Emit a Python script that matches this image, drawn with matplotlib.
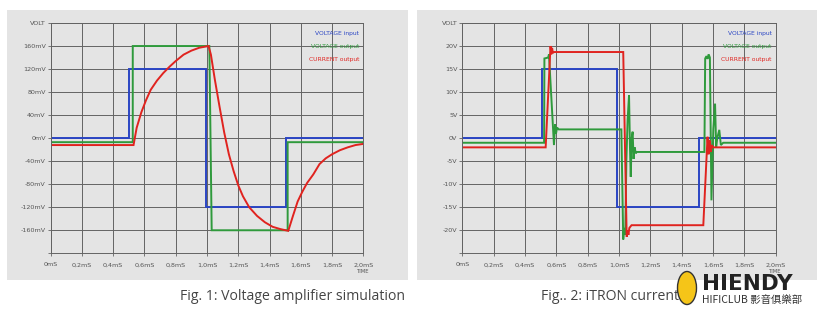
import matplotlib
matplotlib.use("Agg")
import matplotlib.pyplot as plt
from matplotlib.patches import Rectangle, Ellipse

# ---------------- data ----------------
# Fig. 1 (mV vs ms)
f1_in_t = [0, 0.50, 0.50, 0.994, 0.994, 1.503, 1.503, 2.0]
f1_in_v = [0, 0, 120, 120, -120, -120, 0, 0]
f1_out_t = [0, 0.525, 0.525, 1.015, 1.03, 1.516, 1.516, 2.0]
f1_out_v = [-7, -7, 160, 160, -160, -160, -7, -7]
f1_cur_t = [0, 0.53, 0.55, 0.58, 0.61, 0.64, 0.68, 0.72, 0.76, 0.80, 0.85, 0.90, 0.95, 1.01,
            1.025, 1.05, 1.08, 1.11, 1.14, 1.17, 1.20, 1.23, 1.27, 1.32, 1.37, 1.42, 1.47, 1.52,
            1.55, 1.58, 1.61, 1.64, 1.68, 1.72, 1.76, 1.80, 1.85, 1.90, 1.95, 2.0]
f1_cur_v = [-12, -12, 18, 45, 66, 84, 100, 113, 124, 134, 145, 152, 157, 160,
            145, 102, 55, 10, -28, -57, -82, -101, -120, -135, -146, -154, -158, -161,
            -135, -110, -93, -78, -63, -45, -35, -28, -21, -16, -12, -10]

# Fig. 2 (V vs ms)
f2_in_t = [0, 0.51, 0.51, 0.985, 0.985, 1.51, 1.51, 2.0]
f2_in_v = [0, 0, 15, 15, -15, -15, 0, 0]
f2_out_t = [0, 0.522, 0.524, 0.548, 0.553, 0.585, 0.592, 0.598, 0.605, 0.615,
            1.015, 1.027, 1.033, 1.04, 1.047, 1.055, 1.064, 1.07, 1.075, 1.081, 1.087, 1.093, 1.10, 1.107, 1.113,
            1.545, 1.55, 1.558, 1.565, 1.572, 1.58, 1.59, 1.602, 1.613, 1.62, 1.627, 1.64, 1.65, 1.665, 2.0]
f2_out_v = [-1, -1, 17.3, 17.5, 18.2, -1.5, 3.0, 1.0, 2.3, 1.9,
            1.9, -22, -19.5, -21, -5, 4, 9.3, -2, -8.4, 0, 1.4, -4.5, -2, -3.3, -3,
            -3, 17.3, 17.8, 17.2, 18.2, 17.5, -13.5, 2, 7.5, -2, 0, 1.8, -1.5, -1, -1]
f2_cur_t = [0, 0.532, 0.563, 0.568, 0.573, 0.578, 0.585, 1.027, 1.049, 1.055, 1.06, 1.066, 1.08,
            1.538, 1.565, 1.572, 1.578, 1.585, 1.592, 1.60, 2.0]
f2_cur_v = [-2, -2, 20, 18.2, 19.6, 18.5, 18.7, 18.7, -21.4, -20, -21, -19.5, -18.9,
            -18.9, 0.3, -3.5, -0.5, -3, -1.5, -2, -2]

x_ticks = [0, 0.2, 0.4, 0.6, 0.8, 1.0, 1.2, 1.4, 1.6, 1.8, 2.0]
x_labels = ["0mS", "0,2mS", "0,4mS", "0,6mS", "0,8mS", "1,0mS", "1,2mS", "1,4mS", "1,6mS", "1,8mS", "2,0mS"]
f1_y_ticks = [-200, -160, -120, -80, -40, 0, 40, 80, 120, 160, 200]
f1_y_labels = ["", "-160mV", "-120mV", "-80mV", "-40mV", "0mV", "40mV", "80mV", "120mV", "160mV", "VOLT"]
f2_y_ticks = [-25, -20, -15, -10, -5, 0, 5, 10, 15, 20, 25]
f2_y_labels = ["", "-20V", "-15V", "-10V", "-5V", "0V", "5V", "10V", "15V", "20V", "VOLT"]
legend_labels = ["VOLTAGE input", "VOLTAGE output", "CURRENT output"]
captions = ["Fig. 1: Voltage amplifier simulation", "Fig.. 2: iTRON current"]

# ---------------- style ----------------
BLUE = "#2a45c4"
GREEN = "#2f9a3c"
RED = "#e0231f"
PANEL = "#e4e4e4"
GRID = "#636363"
W, H = 829, 312

fig = plt.figure(figsize=(W / 100, H / 100), dpi=100)
fig.patch.set_facecolor("white")


def px_box(x0, y0, x1, y1):
    return [x0 / W, 1 - y1 / H, (x1 - x0) / W, (y1 - y0) / H]


# grey panels
for (x0, x1) in [(7, 408), (417, 817)]:
    b = px_box(x0, 10, x1, 280)
    fig.patches.append(Rectangle((b[0], b[1]), b[2], b[3], transform=fig.transFigure,
                                 facecolor=PANEL, edgecolor="none", zorder=-10))


def make_axes(box, yticks, ylabels, series, ylim):
    ax = fig.add_axes(px_box(*box))
    ax.set_zorder(1)
    ax.set_facecolor("none")
    ax.set_xlim(0, 2.0)
    ax.set_ylim(*ylim)
    ax.set_xticks(x_ticks)
    ax.set_xticklabels(x_labels)
    ax.set_yticks(yticks)
    ax.set_yticklabels(ylabels)
    ax.grid(True, color=GRID, linewidth=0.7)
    for s in ax.spines.values():
        s.set_color(GRID)
        s.set_linewidth(0.7)
    ax.tick_params(axis="both", length=2, width=0.6, color=GRID, labelsize=4.6,
                   labelcolor="#555555", pad=1.5)
    ax.tick_params(axis="x", pad=4.5)
    ax.set_axisbelow(True)
    for (t, v, c) in series:
        ax.plot(t, v, color=c, linewidth=1.4, solid_joinstyle="miter")
    ax.text(2.0, -0.068, "TIME", transform=ax.get_xaxis_transform(), ha="center", va="top",
            fontsize=3.8, color="#555555")
    for i, (lab, c) in enumerate(zip(legend_labels, [BLUE, GREEN, RED])):
        ax.text(0.987, 0.956 - i * 0.058, lab, transform=ax.transAxes, ha="right", va="center",
                fontsize=4.3, color=c)
    return ax


make_axes((50.7, 23, 363.3, 253.3), f1_y_ticks, f1_y_labels,
          [(f1_in_t, f1_in_v, BLUE), (f1_out_t, f1_out_v, GREEN), (f1_cur_t, f1_cur_v, RED)],
          (-200, 200))
make_axes((462.3, 23, 775.7, 253.3), f2_y_ticks, f2_y_labels,
          [(f2_in_t, f2_in_v, BLUE), (f2_out_t, f2_out_v, GREEN), (f2_cur_t, f2_cur_v, RED)],
          (-25, 25))

# captions
fig.text(405 / W, 1 - 296 / H, captions[0], ha="right", va="center", fontsize=10.1,
         family="Open Sans", color="#444444")
fig.text(541 / W, 1 - 296 / H, captions[1], ha="left", va="center", fontsize=10.1,
         family="Open Sans", color="#444444")

# watermark logo
fig.patches.append(Ellipse((687 / W, 1 - 288 / H), 19 / W, 33 / H, transform=fig.transFigure,
                           facecolor="#f5c518", edgecolor="#333333", linewidth=1.0, zorder=6))
fig.text(702 / W, 1 - 283.5 / H, "HIENDY", ha="left", va="center", fontsize=15.5, fontweight="bold",
         family="DejaVu Sans", color="#222222", zorder=7)
fig.text(702 / W, 1 - 300 / H, "HIFICLUB 影音俱樂部", ha="left", va="center", fontsize=7.5,
         family=["Noto Sans CJK TC", "DejaVu Sans"], color="#333333", zorder=7)

fig.savefig("out.png", dpi=100, facecolor="white")
